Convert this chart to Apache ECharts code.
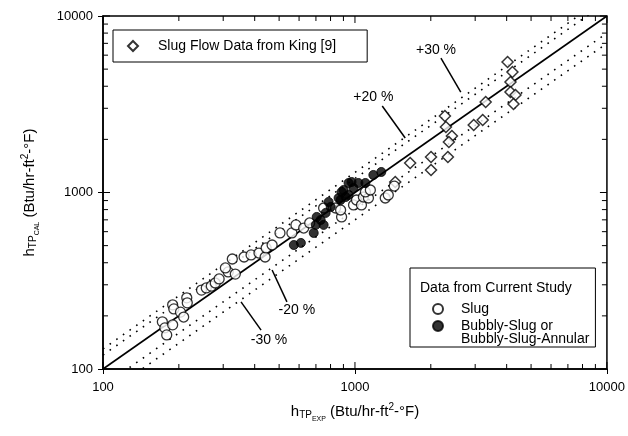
<!DOCTYPE html>
<html>
<head>
<meta charset="utf-8">
<script src="https://cdn.jsdelivr.net/npm/echarts@6/dist/echarts.min.js"></script>
<style>html,body{margin:0;padding:0;background:#fff}#c{width:628px;height:436px}</style>
</head>
<body>
<div id="c"></div>
<script>
// ---- data ----
const kingPoints = [[4033,5486],[4217,4817],[4142,4227],[4142,3710],[4335,3568],[4258,3172],[3302,3258],[2275,2712],[2296,2350],[2425,2090],[2359,1933],[2338,1589],[2960,2412],[3213,2575],[2004,1589],[2004,1341],[1656,1469],[1445,1147]];
const slugPoints = [[172,185],[176,171],[179,156],[189,178],[189,231],[191,219],[203,210],[209,197],[215,253],[216,237],[246,280],[257,288],[269,295],[279,307],[289,324],[314,355],[335,345],[326,420],[363,431],[387,443],[416,454],[440,431],[444,485],[469,504],[504,590],[562,590],[583,655],[626,629],[661,672],[751,817],[838,817],[885,727],[877,796],[987,850],[1014,907],[1061,850],[1080,943],[1131,931],[1100,1007],[1151,1033],[1319,931],[1356,968],[1432,1088],[306,374]];
const bubblyPoints = [[572,504],[610,518],[686,590],[699,655],[731,699],[751,655],[705,727],[786,884],[801,828],[885,1007],[918,943],[877,907],[943,1132],[969,1147],[901,1033],[943,968],[1032,1132],[1100,1132],[1183,1257],[1272,1307],[987,1060],[861,931],[765,766]];
const axisRange = [100, 10000];
const majorTicks = [100, 1000, 10000];
const minorTicks = [200,300,400,500,600,700,800,900,2000,3000,4000,5000,6000,7000,8000,9000];
const bandFactors = [1.2, 1.3, 0.8, 0.7];
const annotationLabels = ['+30 %', '+20 %', '-20 %', '-30 %'];
const annotationLabelAt = [[2097,6415],[1183,3476],[588,216],[456,146]];
const arrowTails = [[2194,5781],[1283,3091],[537,240],[424,166]];
const arrowTips = [[2630,3710],[1583,2036],[469,364],[353,240]];
const seriesNames = ['Slug Flow Data from King [9]', 'Slug', 'Bubbly-Slug or Bubbly-Slug-Annular'];

// ---- chart ----
const FONT = 'Liberation Sans, Arial, Helvetica, sans-serif';
const chart = echarts.init(document.getElementById('c'), null, {renderer: 'canvas'});

function tickRenderer(isX) {
  return function (params, api) {
    const v = api.value(0);
    const len = majorTicks.indexOf(v) >= 0 ? 7 : 5;
    const st = {stroke: '#000', lineWidth: 1, fill: null};
    let a, b;
    if (isX) {
      a = api.coord([v, axisRange[0]]);
      b = api.coord([v, axisRange[1]]);
      return {type: 'group', children: [
        {type: 'line', shape: {x1: a[0], y1: a[1], x2: a[0], y2: a[1] - len}, style: st},
        {type: 'line', shape: {x1: b[0], y1: b[1], x2: b[0], y2: b[1] + len}, style: st}
      ]};
    }
    a = api.coord([axisRange[0], v]);
    b = api.coord([axisRange[1], v]);
    return {type: 'group', children: [
      {type: 'line', shape: {x1: a[0], y1: a[1], x2: a[0] + len, y2: a[1]}, style: st},
      {type: 'line', shape: {x1: b[0], y1: b[1], x2: b[0] - len, y2: b[1]}, style: st}
    ]};
  };
}

const rich = {
  b: {fontSize: 15, fontFamily: FONT, color: '#000'},
  s: {fontSize: 10, fontFamily: FONT, color: '#000', padding: [8, 0, 0, 0]},
  ss: {fontSize: 7, fontFamily: FONT, color: '#000', padding: [16, 0, 0, 0]},
  sup: {fontSize: 10, fontFamily: FONT, color: '#000', padding: [0, 0, 8, 0]}
};

const bandSeries = bandFactors.map(f => ({
  type: 'line', silent: true, symbol: 'none', clip: true,
  data: [[axisRange[0], axisRange[0] * f], [axisRange[1], axisRange[1] * f]],
  lineStyle: {color: '#000', width: 1.6, type: [1.6, 6.5]},
  z: 1
}));

const tickLabel = {fontSize: 13, color: '#000', fontFamily: FONT, formatter: v => String(Math.round(v))};

const option = {
  animation: false,
  backgroundColor: '#fff',
  textStyle: {fontFamily: FONT},
  grid: {left: 103, right: 18, top: 16, bottom: 67, show: true, borderColor: '#000', borderWidth: 1.5, backgroundColor: 'transparent'},
  title: {
    text: 'Data from Current Study', left: 420, top: 281, padding: 0,
    textStyle: {fontSize: 14, fontWeight: 'normal', color: '#000', fontFamily: FONT}
  },
  legend: [
    {
      data: [seriesNames[0]], left: 113, top: 30, orient: 'horizontal',
      padding: [8, 31, 8, 14], itemWidth: 10, itemHeight: 10,
      borderColor: '#000', borderWidth: 1, backgroundColor: '#fff',
      selectedMode: false,
      textStyle: {fontSize: 14, color: '#000', fontFamily: FONT, lineHeight: 16, padding: [0, 0, 0, 15]}
    },
    {
      data: [seriesNames[1], seriesNames[2]], left: 410, top: 268, orient: 'vertical',
      padding: [34, 6, 1, 22], itemWidth: 10, itemHeight: 10, itemGap: -10,
      borderColor: '#000', borderWidth: 1, backgroundColor: '#fff',
      selectedMode: false,
      formatter: function (name) {
        return name === seriesNames[2] ? '\nBubbly-Slug or\nBubbly-Slug-Annular' : name;
      },
      textStyle: {fontSize: 14, color: '#000', fontFamily: FONT, lineHeight: 13, padding: [0, 0, 0, 13]}
    }
  ],
  xAxis: {
    type: 'log', logBase: 10, min: axisRange[0], max: axisRange[1],
    splitLine: {show: false},
    axisLine: {show: true, lineStyle: {color: '#000', width: 1.5}},
    axisTick: {show: true, inside: false, length: 5, lineStyle: {color: '#000', width: 1}},
    axisLabel: Object.assign({margin: 12}, tickLabel),
    name: '{b|h}{s|TP}{ss|EXP}{b| (Btu/hr-ft}{sup|2}{b|-°F)}',
    nameLocation: 'middle', nameGap: 31,
    nameTextStyle: {rich: rich}
  },
  yAxis: {
    type: 'log', logBase: 10, min: axisRange[0], max: axisRange[1],
    splitLine: {show: false},
    axisLine: {show: true, lineStyle: {color: '#000', width: 1.5}},
    axisTick: {show: true, inside: false, length: 5, lineStyle: {color: '#000', width: 1}},
    axisLabel: Object.assign({margin: 10}, tickLabel),
    name: '{b|h}{s|TP}{ss|CAL}{b| (Btu/hr-ft}{sup|2}{b|-°F)}',
    nameLocation: 'middle', nameGap: 62, nameRotate: 90,
    nameTextStyle: {rich: rich}
  },
  series: [
    {
      type: 'line', silent: true, symbol: 'none',
      data: [[axisRange[0], axisRange[0]], [axisRange[1], axisRange[1]]],
      lineStyle: {color: '#000', width: 1.6},
      z: 2,
      markLine: {
        silent: true, animation: false,
        symbol: ['none', 'arrow'], symbolSize: [0, 9],
        label: {show: false},
        lineStyle: {color: '#000', width: 1.5, type: 'solid'},
        data: arrowTails.map((t, i) => [{coord: t}, {coord: arrowTips[i]}])
      },
      markPoint: {
        silent: true, animation: false,
        symbol: 'circle', symbolSize: 1,
        itemStyle: {color: 'rgba(0,0,0,0)'},
        label: {show: true, position: 'inside', formatter: '{b}', fontSize: 14, color: '#000', fontFamily: FONT},
        data: annotationLabels.map((n, i) => ({name: n, coord: annotationLabelAt[i]}))
      }
    },
    ...bandSeries,
    {
      name: seriesNames[0], type: 'scatter', symbol: 'diamond', symbolSize: 11,
      data: kingPoints,
      itemStyle: {color: '#fff', borderColor: '#000', borderWidth: 1.5},
      z: 5
    },
    {
      name: seriesNames[1], type: 'scatter', symbol: 'circle', symbolSize: 10,
      data: slugPoints,
      itemStyle: {color: '#fff', borderColor: '#000', borderWidth: 1.3},
      z: 5
    },
    {
      name: seriesNames[2], type: 'scatter', symbol: 'circle', symbolSize: 9,
      data: bubblyPoints,
      itemStyle: {color: '#000', borderColor: '#000', borderWidth: 1},
      z: 6
    },
    {
      type: 'custom', silent: true, clip: false,
      renderItem: tickRenderer(true),
      data: minorTicks.concat(majorTicks).map(v => [v, v]),
      z: 7
    },
    {
      type: 'custom', silent: true, clip: false,
      renderItem: tickRenderer(false),
      data: minorTicks.concat(majorTicks).map(v => [v, v]),
      z: 7
    }
  ]
};
chart.setOption(option);
</script>
</body>
</html>
